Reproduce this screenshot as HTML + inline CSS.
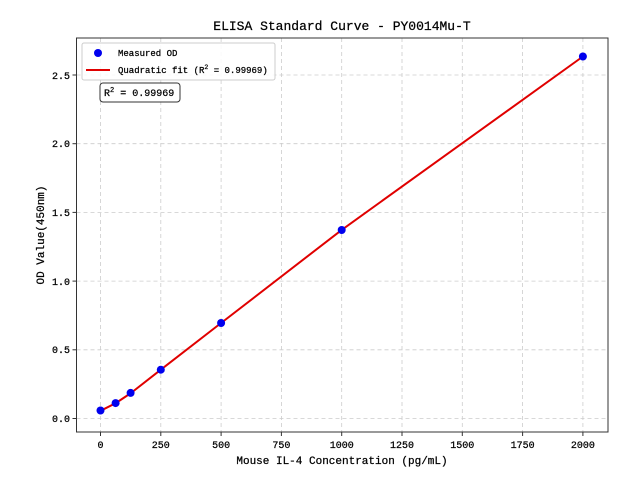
<!DOCTYPE html>
<html><head><meta charset="utf-8"><style>body{margin:0;background:#fff}svg{display:block}text{font-family:"Liberation Mono","WenQuanYi Zen Hei",monospace;fill:#000;stroke:#000;stroke-width:0.25}</style></head>
<body>
<svg width="640" height="480" viewBox="0 0 640 480" xmlns="http://www.w3.org/2000/svg">
<rect width="640" height="480" fill="#fff"/>
<g stroke="#ccc" stroke-dasharray="4,3" stroke-width="0.8">
<line x1="100.5" y1="38" x2="100.5" y2="432"/><line x1="160.8" y1="38" x2="160.8" y2="432"/><line x1="221.1" y1="38" x2="221.1" y2="432"/><line x1="281.4" y1="38" x2="281.4" y2="432"/><line x1="341.7" y1="38" x2="341.7" y2="432"/><line x1="402" y1="38" x2="402" y2="432"/><line x1="462.3" y1="38" x2="462.3" y2="432"/><line x1="522.6" y1="38" x2="522.6" y2="432"/><line x1="582.9" y1="38" x2="582.9" y2="432"/>
<line x1="76.5" y1="418.5" x2="608" y2="418.5"/><line x1="76.5" y1="349.8" x2="608" y2="349.8"/><line x1="76.5" y1="281.1" x2="608" y2="281.1"/><line x1="76.5" y1="212.4" x2="608" y2="212.4"/><line x1="76.5" y1="143.7" x2="608" y2="143.7"/><line x1="76.5" y1="75" x2="608" y2="75"/>
</g>
<rect x="76.5" y="38" width="531.5" height="394" fill="none" stroke="#333" stroke-width="1"/>
<g stroke="#333">
<line x1="100.5" y1="432" x2="100.5" y2="436"/><line x1="160.8" y1="432" x2="160.8" y2="436"/><line x1="221.1" y1="432" x2="221.1" y2="436"/><line x1="281.4" y1="432" x2="281.4" y2="436"/><line x1="341.7" y1="432" x2="341.7" y2="436"/><line x1="402" y1="432" x2="402" y2="436"/><line x1="462.3" y1="432" x2="462.3" y2="436"/><line x1="522.6" y1="432" x2="522.6" y2="436"/><line x1="582.9" y1="432" x2="582.9" y2="436"/>
<line x1="72.5" y1="418.5" x2="76.5" y2="418.5"/><line x1="72.5" y1="349.8" x2="76.5" y2="349.8"/><line x1="72.5" y1="281.1" x2="76.5" y2="281.1"/><line x1="72.5" y1="212.4" x2="76.5" y2="212.4"/><line x1="72.5" y1="143.7" x2="76.5" y2="143.7"/><line x1="72.5" y1="75" x2="76.5" y2="75"/>
</g>
<g font-size="10" text-anchor="middle">
<text x="100.5" y="448">0</text><text x="160.8" y="448">250</text><text x="221.1" y="448">500</text><text x="281.4" y="448">750</text><text x="341.7" y="448">1000</text><text x="402" y="448">1250</text><text x="462.3" y="448">1500</text><text x="522.6" y="448">1750</text><text x="582.9" y="448">2000</text>
</g>
<g font-size="10" text-anchor="end">
<text x="70" y="422">0.0</text><text x="70" y="353">0.5</text><text x="70" y="285">1.0</text><text x="70" y="216">1.5</text><text x="70" y="147">2.0</text><text x="70" y="79">2.5</text>
</g>
<text x="342" y="464" font-size="11" text-anchor="middle">Mouse IL-4 Concentration (pg/mL)</text>
<text transform="translate(44,235) rotate(-90)" font-size="11" text-anchor="middle">OD Value(450nm)</text>
<text x="342" y="30" font-size="13" text-anchor="middle">ELISA Standard Curve - PY0014Mu-T</text>
<polyline fill="none" stroke="#e00000" stroke-width="2" points="100.5,410.8 116,403 131,393 160.8,369.7 221.1,323 341.7,229.9 462.3,143.2 582.9,56.5"/>
<g fill="#0000ee">
<circle cx="100.5" cy="410.5" r="4"/><circle cx="115.6" cy="403.1" r="4"/><circle cx="130.6" cy="392.9" r="4"/><circle cx="160.8" cy="369.7" r="4"/><circle cx="221.1" cy="323" r="4"/><circle cx="341.7" cy="230" r="4"/><circle cx="582.9" cy="56.5" r="4"/>
</g>
<rect x="82" y="43" width="193" height="37" rx="2" fill="#fff" fill-opacity="0.85" stroke="#ccc"/>
<circle cx="98" cy="53" r="4" fill="#0000ee"/>
<text x="118" y="56" font-size="9">Measured OD</text>
<line x1="86" y1="70" x2="110" y2="70" stroke="#e00000" stroke-width="2"/>
<text x="118" y="73" font-size="9">Quadratic fit (R<tspan font-size="6.5" dy="-4">2</tspan><tspan dy="4"> = 0.99969)</tspan></text>
<rect x="100" y="83" width="80" height="19" rx="3" fill="#fff" stroke="#333"/>
<text x="104" y="96" font-size="10">R<tspan font-size="7" dy="-4">2</tspan><tspan dy="4"> = 0.99969</tspan></text>
</svg>
</body></html>
